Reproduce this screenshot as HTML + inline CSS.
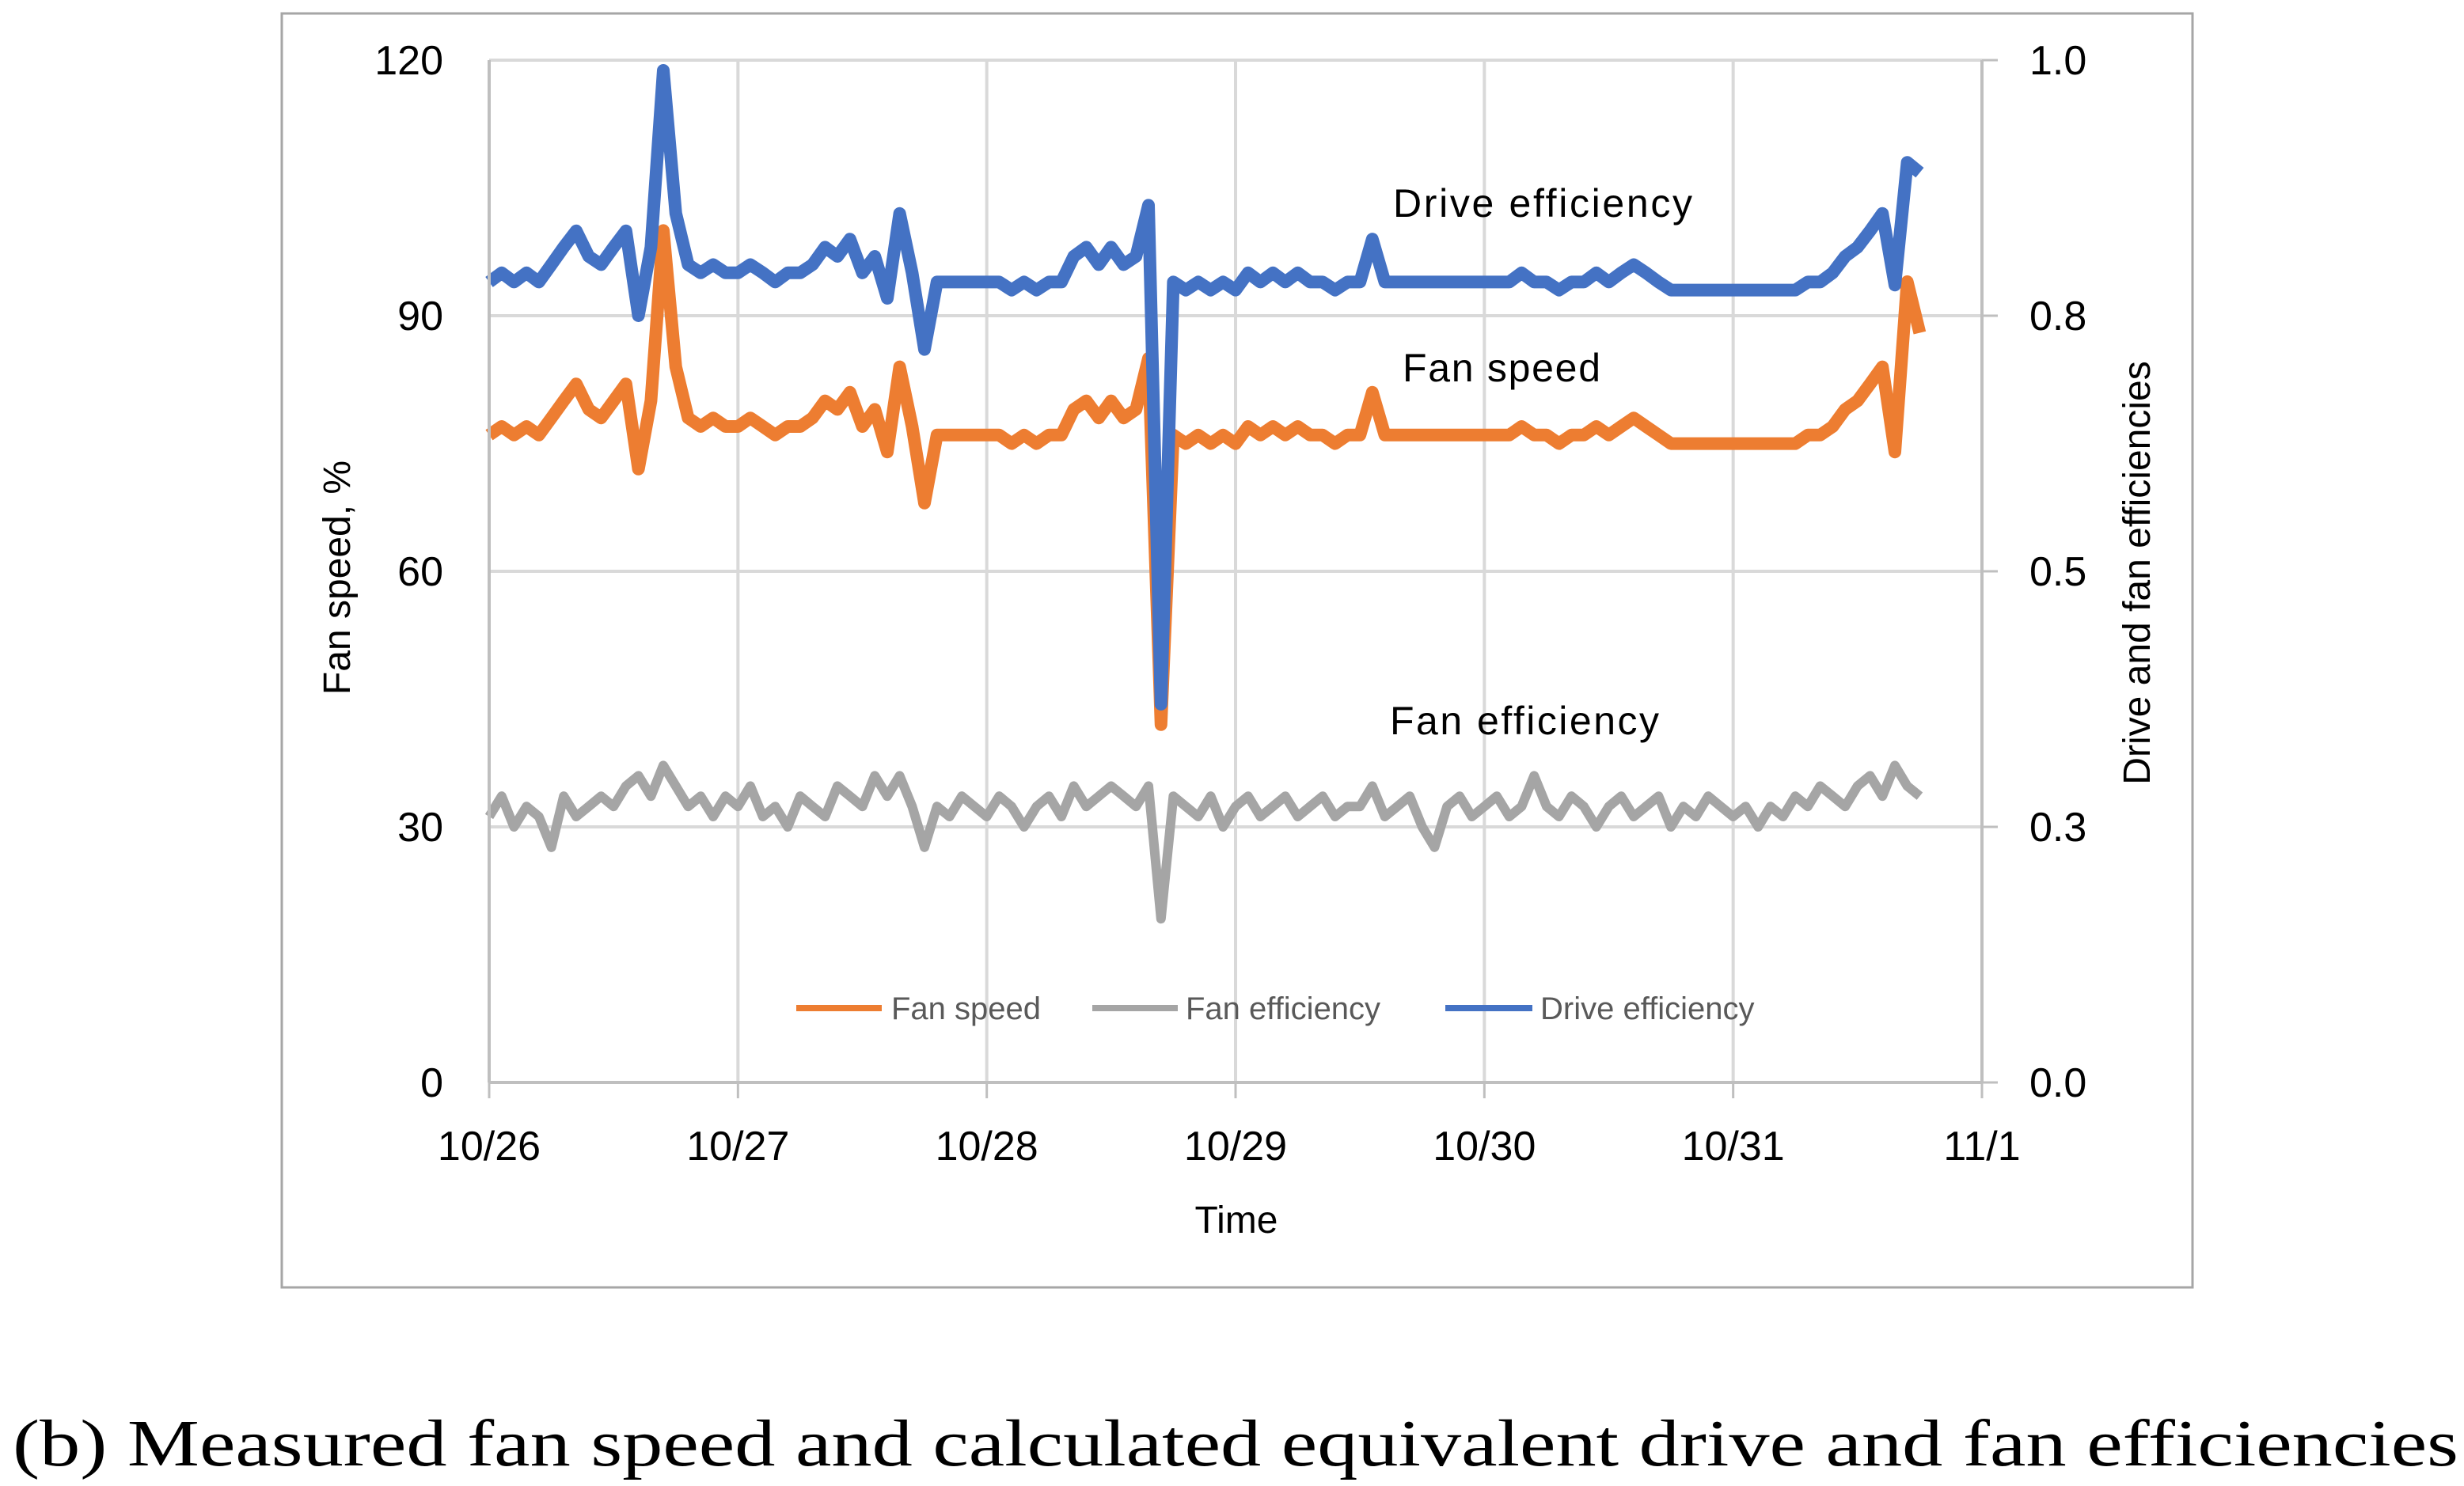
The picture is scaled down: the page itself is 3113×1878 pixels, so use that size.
<!DOCTYPE html>
<html><head><meta charset="utf-8"><style>
html,body{margin:0;padding:0;background:#fff}
svg{display:block}
text{font-family:"Liberation Sans",sans-serif}
</style></head><body>
<svg id="chart" width="3113" height="1878" viewBox="0 0 1556.5 939" xmlns="http://www.w3.org/2000/svg">
<rect x="0" y="0" width="1556.5" height="939" fill="#fff"/>
<rect x="178" y="8.5" width="1207" height="805" fill="none" stroke="#a6a6a6" stroke-width="1.5"/>
<g id="grid"></g>
<g id="series"></g>
<g id="axes"></g>
<g font-size="25" fill="#000">
<text x="880" y="137" textLength="189">Drive efficiency</text>
<text x="886" y="241" textLength="125">Fan speed</text>
<text x="878" y="464" textLength="170">Fan efficiency</text>
</g>
<text transform="translate(221,365) rotate(-90)" text-anchor="middle" font-size="24" fill="#000">Fan speed, %</text>
<text transform="translate(1358,362) rotate(-90)" text-anchor="middle" font-size="24" fill="#000">Drive and fan efficiencies</text>
<text x="781" y="779" text-anchor="middle" font-size="24" fill="#000">Time</text>
<g font-size="20" fill="#595959">
<g><line x1="503" y1="637" x2="557" y2="637" stroke="#ed7d31" stroke-width="4"/><text x="563" y="644">Fan speed</text></g>
<g><line x1="690" y1="637" x2="744" y2="637" stroke="#a5a5a5" stroke-width="4"/><text x="749" y="644">Fan efficiency</text></g>
<g><line x1="913" y1="637" x2="968" y2="637" stroke="#4472c4" stroke-width="4"/><text x="973" y="644">Drive efficiency</text></g>
</g>
<text x="8" y="926" font-size="42" fill="#000" textLength="1545" lengthAdjust="spacingAndGlyphs" style="font-family:'Liberation Serif',serif">(b)  Measured fan speed and calculated equivalent drive and fan efficiencies</text>
</svg>
<script>
const xTickLabels = ["10/26","10/27","10/28","10/29","10/30","10/31","11/1"];
const yLeftTicks = [0,30,60,90,120];
const yRightTicks = ["0.0","0.3","0.5","0.8","1.0"];
const tStep = 0.05; // days between samples
const fanSpeed = [76,77,76,77,76, 78,80,82,79,78, 80,82,72,80,100, 84,78,77,78,77,
 77,78,77,76,77, 77,78,80,79,81, 77,79,74,84,77, 68,76,76,76,76,
 76,76,75,76,75, 76,76,79,80,78, 80,78,79,85,42, 76,75,76,75,76,
 75,77,76,77,76, 77,76,76,75,76, 76,81,76,76,76, 76,76,76,76,76,
 76,76,76,77,76, 76,75,76,76,77, 76,77,78,77,76, 75,75,75,75,75,
 75,75,75,75,75, 75,76,76,77,79, 80,82,84,74,94, 88];
const driveEff = [0.783,0.792,0.783,0.792,0.783, 0.80,0.817,0.833,0.808,0.80, 0.817,0.833,0.75,0.817,0.99, 0.85,0.80,0.792,0.80,0.792,
 0.792,0.80,0.792,0.783,0.792, 0.792,0.80,0.817,0.808,0.825, 0.792,0.808,0.767,0.85,0.792, 0.717,0.783,0.783,0.783,0.783,
 0.783,0.783,0.775,0.783,0.775, 0.783,0.783,0.808,0.817,0.80, 0.817,0.80,0.808,0.858,0.37, 0.783,0.775,0.783,0.775,0.783,
 0.775,0.792,0.783,0.792,0.783, 0.792,0.783,0.783,0.775,0.783, 0.783,0.825,0.783,0.783,0.783, 0.783,0.783,0.783,0.783,0.783,
 0.783,0.783,0.783,0.792,0.783, 0.783,0.775,0.783,0.783,0.792, 0.783,0.792,0.80,0.792,0.783, 0.775,0.775,0.775,0.775,0.775,
 0.775,0.775,0.775,0.775,0.775, 0.775,0.783,0.783,0.792,0.808, 0.817,0.833,0.85,0.78,0.90, 0.89];
const fanEff = [0.26,0.28,0.25,0.27,0.26,0.23,0.28,0.26,0.27,0.28,0.27,0.29,0.30,0.28,0.31,0.29,0.27,0.28,0.26,0.28,
 0.27,0.29,0.26,0.27,0.25,0.28,0.27,0.26,0.29,0.28,0.27,0.30,0.28,0.30,0.27,0.23,0.27,0.26,0.28,0.27,
 0.26,0.28,0.27,0.25,0.27,0.28,0.26,0.29,0.27,0.28,0.29,0.28,0.27,0.29,0.16,0.28,0.27,0.26,0.28,0.25,
 0.27,0.28,0.26,0.27,0.28,0.26,0.27,0.28,0.26,0.27,0.27,0.29,0.26,0.27,0.28,0.25,0.23,0.27,0.28,0.26,
 0.27,0.28,0.26,0.27,0.30,0.27,0.26,0.28,0.27,0.25,0.27,0.28,0.26,0.27,0.28,0.25,0.27,0.26,0.28,0.27,
 0.26,0.27,0.25,0.27,0.26,0.28,0.27,0.29,0.28,0.27,0.29,0.30,0.28,0.31,0.29,0.28];

const X0=309, X1=1252, Y0=684, Y1=38;
const xs = d => X0 + d*(X1-X0)/6;
const yL = v => Y0 - v*(Y0-Y1)/120;
const yR = v => Y0 - v*(Y0-Y1)/1.0;
const NS="http://www.w3.org/2000/svg";
function mk(tag, attrs, parent){const e=document.createElementNS(NS,tag);for(const k in attrs)e.setAttribute(k,attrs[k]);parent.appendChild(e);return e;}
const grid=document.getElementById('grid'), axes=document.getElementById('axes'), series=document.getElementById('series');

yLeftTicks.forEach((v,i)=>{
  if(v>0){const g=mk('line',{x1:X0,x2:X1,y1:yL(v),y2:yL(v),stroke:'#d9d9d9','stroke-width':2},grid);
  
  }
  const t=mk('text',{x:280,y:yL(v)+9,'text-anchor':'end','font-size':26,fill:'#000'},axes);t.textContent=v;
  
  
  const yy = Y0 - (i/4)*(Y0-Y1);
  const tk=mk('line',{x1:X1,x2:X1+10,y1:yy,y2:yy,stroke:'#bfbfbf','stroke-width':1.5},axes);
  
  
  const r=mk('text',{x:1282,y:yy+9,'font-size':26,fill:'#000'},axes);r.textContent=yRightTicks[i];
  
  
});
xTickLabels.forEach((lab,i)=>{
  if(i>0&&i<6){const g=mk('line',{x1:xs(i),x2:xs(i),y1:Y1,y2:Y0,stroke:'#d9d9d9','stroke-width':2},grid);
  
  }
  const tk=mk('line',{x1:xs(i),x2:xs(i),y1:Y0,y2:Y0+10,stroke:'#bfbfbf','stroke-width':1.5},axes);
  
  
  const t=mk('text',{x:xs(i),y:733,'text-anchor':'middle','font-size':26,fill:'#000'},axes);t.textContent=lab;
  
  
});
const la=mk('line',{x1:X0,x2:X0,y1:Y1,y2:Y0,stroke:'#bfbfbf','stroke-width':2},axes);


const ra=mk('line',{x1:X1,x2:X1,y1:Y1,y2:Y0,stroke:'#bfbfbf','stroke-width':2},axes);


const ba=mk('line',{x1:X0,x2:X1,y1:Y0,y2:Y0,stroke:'#bfbfbf','stroke-width':2},axes);



function path(arr, yf){return arr.map((v,i)=>(i?'L':'M')+xs(i*tStep).toFixed(1)+','+yf(v).toFixed(1)).join(' ');}
const p1=mk('path',{d:path(fanSpeed,yL),fill:'none',stroke:'#ed7d31','stroke-width':8,'stroke-linejoin':'round'},series);


const p2=mk('path',{d:path(fanEff,yR),fill:'none',stroke:'#a5a5a5','stroke-width':6,'stroke-linejoin':'round'},series);


const p3=mk('path',{d:path(driveEff,yR),fill:'none',stroke:'#4472c4','stroke-width':8,'stroke-linejoin':'round'},series);


</script>
</body></html>
